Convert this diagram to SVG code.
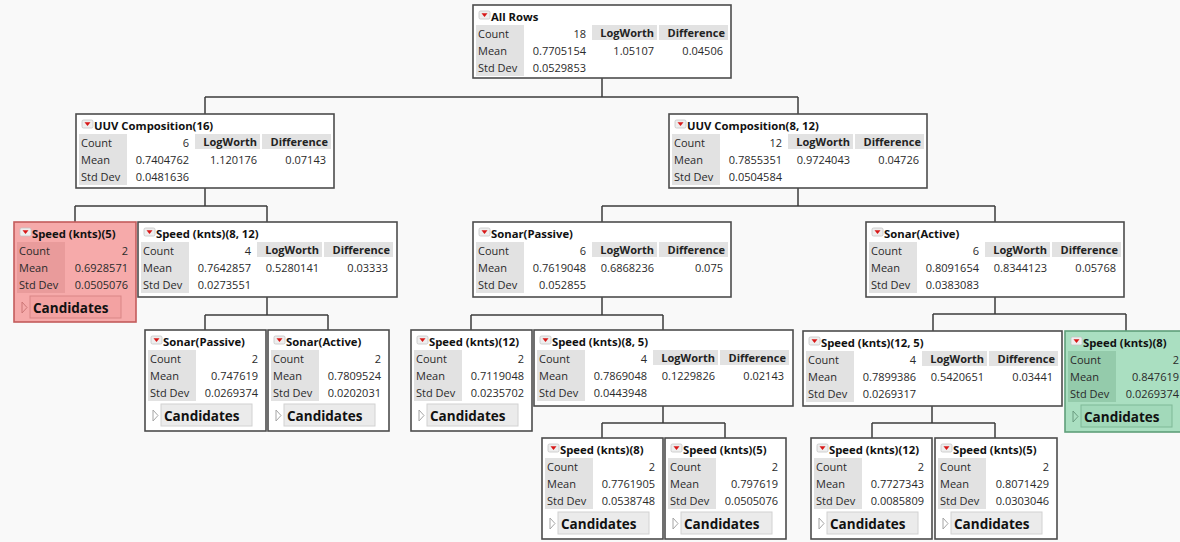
<svg xmlns="http://www.w3.org/2000/svg" xmlns:xlink="http://www.w3.org/1999/xlink" width="1180" height="542" viewBox="0 0 1180 542">
<style>
.bg{fill:#f9f9f9}
.bx{fill:#ffffff;stroke:#4d4d4d;stroke-width:1.6}
.lc{fill:#e2e2e2}
.t{font-family:"Open Sans","Noto Sans","DejaVu Sans",sans-serif;font-size:11px;fill:#2a2a2a}
.ti{font-weight:700;font-size:11.3px;fill:#111111}
.h{font-weight:700;text-anchor:end;fill:#222222}
.v{text-anchor:end}
.cb{fill:#ebebeb;stroke:#d2d2d2;stroke-width:1}
.ct{font-weight:700;font-size:13.5px;fill:#111111}
.tri{fill:none;stroke:#a5a5a5;stroke-width:1}
.con{fill:none;stroke:#3c3c3c;stroke-width:1.5}
.red .bx{fill:#f6aaaa;stroke:#c45c5c}
.red .lc{fill:#e99b9b}
.red .cb{fill:#f3a2a2;stroke:#d98686}
.red .t{fill:#5a1515}
.red .tri{stroke:#c77}
.grn .bx{fill:#aadfc1;stroke:#5f9f7a}
.grn .lc{fill:#94cbab}
.grn .cb{fill:#a2d9ba;stroke:#7fb997}
.grn .t{fill:#0d3a23}
.grn .tri{stroke:#6a9c80}
</style>
<defs>
<g id="ic">
<rect x="0" y="0" width="11" height="8" rx="1.5" fill="#eeeeee" stroke="#c4c4c4" stroke-width="0.8"/>
<path d="M2.5,2.2 L8.5,2.2 L5.5,6 Z" fill="#d81818"/>
</g>
</defs>
<rect class="bg" x="0" y="0" width="1180" height="542"/>

<g id="connectors">
<path class="con" d="M602,78 V97 M205,97 H798 M205,97 V114 M798,97 V114"/>
<path class="con" d="M205,188 V206 M75,206 H267 M75,206 V222 M267,206 V222"/>
<path class="con" d="M798,188 V206 M602,206 H995 M602,206 V222 M995,206 V222"/>
<path class="con" d="M267,297 V315 M205,315 H328 M205,315 V330 M328,315 V330"/>
<path class="con" d="M602,297 V315 M471,315 H663 M471,315 V330 M663,315 V330"/>
<path class="con" d="M995,297 V314 M933,314 H1126 M933,314 V331 M1126,314 V331"/>
<path class="con" d="M663,406 V423 M602,423 H725 M602,423 V438 M725,423 V438"/>
<path class="con" d="M932,406 V423 M872,423 H995 M872,423 V438 M995,423 V438"/>
</g>

<g id="n-all-rows" class="t" transform="translate(473,5)">
<rect class="bx" width="258" height="73"/>
<use xlink:href="#ic" x="6" y="6"/>
<text class="ti" x="18" y="16">All Rows</text>
<rect class="lc" x="3" y="20" width="48" height="51"/>
<rect class="lc" x="119" y="20" width="65" height="15"/>
<rect class="lc" x="186" y="20" width="69" height="15"/>
<text x="5" y="33">Count</text><text x="5" y="50">Mean</text><text x="5" y="67">Std Dev</text>
<text class="v" x="113" y="33">18</text><text class="v" x="113" y="50">0.7705154</text><text class="v" x="113" y="67">0.0529853</text>
<text class="h" x="181" y="32">LogWorth</text><text class="h" x="252" y="32">Difference</text>
<text class="v" x="181" y="50">1.05107</text><text class="v" x="250" y="50">0.04506</text>
</g>

<g id="n-uuv16" class="t" transform="translate(76,114)">
<rect class="bx" width="258" height="74"/>
<use xlink:href="#ic" x="6" y="6"/>
<text class="ti" x="18" y="16">UUV Composition(16)</text>
<rect class="lc" x="3" y="20" width="48" height="51"/>
<rect class="lc" x="119" y="20" width="65" height="15"/>
<rect class="lc" x="186" y="20" width="69" height="15"/>
<text x="5" y="33">Count</text><text x="5" y="50">Mean</text><text x="5" y="67">Std Dev</text>
<text class="v" x="113" y="33">6</text><text class="v" x="113" y="50">0.7404762</text><text class="v" x="113" y="67">0.0481636</text>
<text class="h" x="181" y="32">LogWorth</text><text class="h" x="252" y="32">Difference</text>
<text class="v" x="181" y="50">1.120176</text><text class="v" x="250" y="50">0.07143</text>
</g>

<g id="n-uuv812" class="t" transform="translate(669,114)">
<rect class="bx" width="258" height="74"/>
<use xlink:href="#ic" x="6" y="6"/>
<text class="ti" x="18" y="16">UUV Composition(8, 12)</text>
<rect class="lc" x="3" y="20" width="48" height="51"/>
<rect class="lc" x="119" y="20" width="65" height="15"/>
<rect class="lc" x="186" y="20" width="69" height="15"/>
<text x="5" y="33">Count</text><text x="5" y="50">Mean</text><text x="5" y="67">Std Dev</text>
<text class="v" x="113" y="33">12</text><text class="v" x="113" y="50">0.7855351</text><text class="v" x="113" y="67">0.0504584</text>
<text class="h" x="181" y="32">LogWorth</text><text class="h" x="252" y="32">Difference</text>
<text class="v" x="181" y="50">0.9724043</text><text class="v" x="250" y="50">0.04726</text>
</g>

<g id="n-speed5-red" class="t red" transform="translate(14,222)">
<rect class="bx" width="122" height="100"/>
<use xlink:href="#ic" x="6" y="6"/>
<text class="ti" x="18" y="16">Speed (knts)(5)</text>
<rect class="lc" x="3" y="20" width="48" height="51"/>
<text x="5" y="33">Count</text><text x="5" y="50">Mean</text><text x="5" y="67">Std Dev</text>
<text class="v" x="114" y="33">2</text><text class="v" x="114" y="50">0.6928571</text><text class="v" x="114" y="67">0.0505076</text>
<polygon class="tri" points="8,80 13,85.5 8,91"/>
<rect class="cb" x="16" y="74" width="91" height="22"/>
<text class="ct" x="19" y="91">Candidates</text>
</g>

<g id="n-speed812" class="t" transform="translate(138,222)">
<rect class="bx" width="259" height="75"/>
<use xlink:href="#ic" x="6" y="6"/>
<text class="ti" x="18" y="16">Speed (knts)(8, 12)</text>
<rect class="lc" x="3" y="20" width="48" height="51"/>
<rect class="lc" x="119" y="20" width="65" height="15"/>
<rect class="lc" x="186" y="20" width="69" height="15"/>
<text x="5" y="33">Count</text><text x="5" y="50">Mean</text><text x="5" y="67">Std Dev</text>
<text class="v" x="113" y="33">4</text><text class="v" x="113" y="50">0.7642857</text><text class="v" x="113" y="67">0.0273551</text>
<text class="h" x="181" y="32">LogWorth</text><text class="h" x="252" y="32">Difference</text>
<text class="v" x="181" y="50">0.5280141</text><text class="v" x="250" y="50">0.03333</text>
</g>

<g id="n-sonar-passive" class="t" transform="translate(473,222)">
<rect class="bx" width="258" height="75"/>
<use xlink:href="#ic" x="6" y="6"/>
<text class="ti" x="18" y="16">Sonar(Passive)</text>
<rect class="lc" x="3" y="20" width="48" height="51"/>
<rect class="lc" x="119" y="20" width="65" height="15"/>
<rect class="lc" x="186" y="20" width="69" height="15"/>
<text x="5" y="33">Count</text><text x="5" y="50">Mean</text><text x="5" y="67">Std Dev</text>
<text class="v" x="113" y="33">6</text><text class="v" x="113" y="50">0.7619048</text><text class="v" x="113" y="67">0.052855</text>
<text class="h" x="181" y="32">LogWorth</text><text class="h" x="252" y="32">Difference</text>
<text class="v" x="181" y="50">0.6868236</text><text class="v" x="250" y="50">0.075</text>
</g>

<g id="n-sonar-active" class="t" transform="translate(866,222)">
<rect class="bx" width="258" height="75"/>
<use xlink:href="#ic" x="6" y="6"/>
<text class="ti" x="18" y="16">Sonar(Active)</text>
<rect class="lc" x="3" y="20" width="48" height="51"/>
<rect class="lc" x="119" y="20" width="65" height="15"/>
<rect class="lc" x="186" y="20" width="69" height="15"/>
<text x="5" y="33">Count</text><text x="5" y="50">Mean</text><text x="5" y="67">Std Dev</text>
<text class="v" x="113" y="33">6</text><text class="v" x="113" y="50">0.8091654</text><text class="v" x="113" y="67">0.0383083</text>
<text class="h" x="181" y="32">LogWorth</text><text class="h" x="252" y="32">Difference</text>
<text class="v" x="181" y="50">0.8344123</text><text class="v" x="250" y="50">0.05768</text>
</g>

<g id="n-l3-sonar-passive" class="t" transform="translate(145,330)">
<rect class="bx" width="121" height="101"/>
<use xlink:href="#ic" x="6" y="6"/>
<text class="ti" x="18" y="16">Sonar(Passive)</text>
<rect class="lc" x="3" y="20" width="48" height="51"/>
<text x="5" y="33">Count</text><text x="5" y="50">Mean</text><text x="5" y="67">Std Dev</text>
<text class="v" x="113" y="33">2</text><text class="v" x="113" y="50">0.747619</text><text class="v" x="113" y="67">0.0269374</text>
<polygon class="tri" points="8,80 13,85.5 8,91"/>
<rect class="cb" x="16" y="74" width="91" height="22"/>
<text class="ct" x="19" y="91">Candidates</text>
</g>

<g id="n-l3-sonar-active" class="t" transform="translate(268,330)">
<rect class="bx" width="121" height="101"/>
<use xlink:href="#ic" x="6" y="6"/>
<text class="ti" x="18" y="16">Sonar(Active)</text>
<rect class="lc" x="3" y="20" width="48" height="51"/>
<text x="5" y="33">Count</text><text x="5" y="50">Mean</text><text x="5" y="67">Std Dev</text>
<text class="v" x="113" y="33">2</text><text class="v" x="113" y="50">0.7809524</text><text class="v" x="113" y="67">0.0202031</text>
<polygon class="tri" points="8,80 13,85.5 8,91"/>
<rect class="cb" x="16" y="74" width="91" height="22"/>
<text class="ct" x="19" y="91">Candidates</text>
</g>

<g id="n-l3-speed12" class="t" transform="translate(411,330)">
<rect class="bx" width="121" height="101"/>
<use xlink:href="#ic" x="6" y="6"/>
<text class="ti" x="18" y="16">Speed (knts)(12)</text>
<rect class="lc" x="3" y="20" width="48" height="51"/>
<text x="5" y="33">Count</text><text x="5" y="50">Mean</text><text x="5" y="67">Std Dev</text>
<text class="v" x="113" y="33">2</text><text class="v" x="113" y="50">0.7119048</text><text class="v" x="113" y="67">0.0235702</text>
<polygon class="tri" points="8,80 13,85.5 8,91"/>
<rect class="cb" x="16" y="74" width="91" height="22"/>
<text class="ct" x="19" y="91">Candidates</text>
</g>

<g id="n-l3-speed85" class="t" transform="translate(534,330)">
<rect class="bx" width="259" height="76"/>
<use xlink:href="#ic" x="6" y="6"/>
<text class="ti" x="18" y="16">Speed (knts)(8, 5)</text>
<rect class="lc" x="3" y="20" width="48" height="51"/>
<rect class="lc" x="119" y="20" width="65" height="15"/>
<rect class="lc" x="186" y="20" width="69" height="15"/>
<text x="5" y="33">Count</text><text x="5" y="50">Mean</text><text x="5" y="67">Std Dev</text>
<text class="v" x="113" y="33">4</text><text class="v" x="113" y="50">0.7869048</text><text class="v" x="113" y="67">0.0443948</text>
<text class="h" x="181" y="32">LogWorth</text><text class="h" x="252" y="32">Difference</text>
<text class="v" x="181" y="50">0.1229826</text><text class="v" x="250" y="50">0.02143</text>
</g>

<g id="n-l3-speed125" class="t" transform="translate(803,331)">
<rect class="bx" width="259" height="75"/>
<use xlink:href="#ic" x="6" y="6"/>
<text class="ti" x="18" y="16">Speed (knts)(12, 5)</text>
<rect class="lc" x="3" y="20" width="48" height="51"/>
<rect class="lc" x="119" y="20" width="65" height="15"/>
<rect class="lc" x="186" y="20" width="69" height="15"/>
<text x="5" y="33">Count</text><text x="5" y="50">Mean</text><text x="5" y="67">Std Dev</text>
<text class="v" x="113" y="33">4</text><text class="v" x="113" y="50">0.7899386</text><text class="v" x="113" y="67">0.0269317</text>
<text class="h" x="181" y="32">LogWorth</text><text class="h" x="252" y="32">Difference</text>
<text class="v" x="181" y="50">0.5420651</text><text class="v" x="250" y="50">0.03441</text>
</g>

<g id="n-l3-speed8-green" class="t grn" transform="translate(1065,331)">
<rect class="bx" width="122" height="101"/>
<use xlink:href="#ic" x="6" y="6"/>
<text class="ti" x="18" y="16">Speed (knts)(8)</text>
<rect class="lc" x="3" y="20" width="48" height="51"/>
<text x="5" y="33">Count</text><text x="5" y="50">Mean</text><text x="5" y="67">Std Dev</text>
<text class="v" x="114" y="33">2</text><text class="v" x="114" y="50">0.847619</text><text class="v" x="114" y="67">0.0269374</text>
<polygon class="tri" points="8,80 13,85.5 8,91"/>
<rect class="cb" x="16" y="74" width="91" height="22"/>
<text class="ct" x="19" y="91">Candidates</text>
</g>

<g id="n-l4-speed8" class="t" transform="translate(542,438)">
<rect class="bx" width="121" height="101"/>
<use xlink:href="#ic" x="6" y="6"/>
<text class="ti" x="18" y="16">Speed (knts)(8)</text>
<rect class="lc" x="3" y="20" width="48" height="51"/>
<text x="5" y="33">Count</text><text x="5" y="50">Mean</text><text x="5" y="67">Std Dev</text>
<text class="v" x="113" y="33">2</text><text class="v" x="113" y="50">0.7761905</text><text class="v" x="113" y="67">0.0538748</text>
<polygon class="tri" points="8,80 13,85.5 8,91"/>
<rect class="cb" x="16" y="74" width="91" height="22"/>
<text class="ct" x="19" y="91">Candidates</text>
</g>

<g id="n-l4-speed5a" class="t" transform="translate(665,438)">
<rect class="bx" width="121" height="101"/>
<use xlink:href="#ic" x="6" y="6"/>
<text class="ti" x="18" y="16">Speed (knts)(5)</text>
<rect class="lc" x="3" y="20" width="48" height="51"/>
<text x="5" y="33">Count</text><text x="5" y="50">Mean</text><text x="5" y="67">Std Dev</text>
<text class="v" x="113" y="33">2</text><text class="v" x="113" y="50">0.797619</text><text class="v" x="113" y="67">0.0505076</text>
<polygon class="tri" points="8,80 13,85.5 8,91"/>
<rect class="cb" x="16" y="74" width="91" height="22"/>
<text class="ct" x="19" y="91">Candidates</text>
</g>

<g id="n-l4-speed12" class="t" transform="translate(811,438)">
<rect class="bx" width="121" height="101"/>
<use xlink:href="#ic" x="6" y="6"/>
<text class="ti" x="18" y="16">Speed (knts)(12)</text>
<rect class="lc" x="3" y="20" width="48" height="51"/>
<text x="5" y="33">Count</text><text x="5" y="50">Mean</text><text x="5" y="67">Std Dev</text>
<text class="v" x="113" y="33">2</text><text class="v" x="113" y="50">0.7727343</text><text class="v" x="113" y="67">0.0085809</text>
<polygon class="tri" points="8,80 13,85.5 8,91"/>
<rect class="cb" x="16" y="74" width="91" height="22"/>
<text class="ct" x="19" y="91">Candidates</text>
</g>

<g id="n-l4-speed5b" class="t" transform="translate(935,438)">
<rect class="bx" width="122" height="101"/>
<use xlink:href="#ic" x="6" y="6"/>
<text class="ti" x="18" y="16">Speed (knts)(5)</text>
<rect class="lc" x="3" y="20" width="48" height="51"/>
<text x="5" y="33">Count</text><text x="5" y="50">Mean</text><text x="5" y="67">Std Dev</text>
<text class="v" x="114" y="33">2</text><text class="v" x="114" y="50">0.8071429</text><text class="v" x="114" y="67">0.0303046</text>
<polygon class="tri" points="8,80 13,85.5 8,91"/>
<rect class="cb" x="16" y="74" width="91" height="22"/>
<text class="ct" x="19" y="91">Candidates</text>
</g>
</svg>
